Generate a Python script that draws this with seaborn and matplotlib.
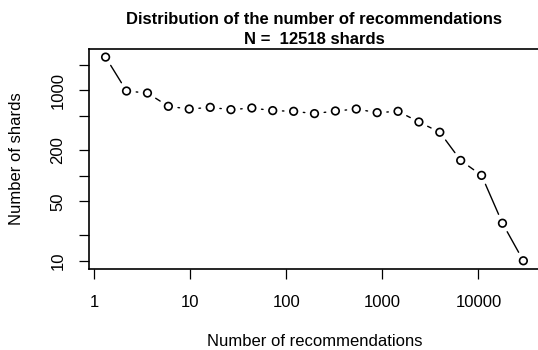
import matplotlib
matplotlib.use("Agg")
import matplotlib.pyplot as plt
import seaborn as sns
import pandas as pd

# Data
recommendations = [1.32, 2.18, 3.60, 5.94, 9.79, 16.2, 26.6, 43.9, 72.4, 119.5,
                   197, 325, 536, 884, 1458, 2405, 3966, 6542, 10790, 17800, 29360]
shards = [2450, 982, 930, 650, 604, 632, 594, 621, 579, 568,
          534, 573, 604, 548, 568, 426, 323, 151, 101, 27.8, 10.1]

x_ticks = [1, 10, 100, 1000, 10000]
x_tick_labels = ["1", "10", "100", "1000", "10000"]
y_ticks = [10, 20, 50, 100, 200, 500, 1000, 2000]
y_tick_labels = ["10", "", "50", "", "200", "", "1000", ""]

title_line1 = "Distribution of the number of recommendations"
title_line2 = "N =  12518 shards"
x_label = "Number of recommendations"
y_label = "Number of shards"

df = pd.DataFrame({"rec": recommendations, "shards": shards})

sns.set_style("white")
plt.rcParams["font.family"] = ["Liberation Sans", "DejaVu Sans"]
plt.rcParams["text.color"] = "black"
plt.rcParams["axes.labelcolor"] = "black"
plt.rcParams["xtick.color"] = "black"
plt.rcParams["ytick.color"] = "black"

W, H = 538, 350
fig = plt.figure(figsize=(W / 100, H / 100), dpi=100)
left_px, right_px, top_px, bottom_px = 89, 540, 49, 269
ax = fig.add_axes([left_px / W, 1 - bottom_px / H,
                   (right_px - left_px) / W, (bottom_px - top_px) / H])
ax.set_xscale("log")
ax.set_yscale("log")
ax.set_xlim(10 ** -0.052, 10 ** 4.641)
ax.set_ylim(10 ** 0.908, 10 ** 3.484)

# type="b" style: line segments with gaps around points
for i in range(len(df) - 1):
    ax.annotate("", xy=(df.rec[i + 1], df.shards[i + 1]), xytext=(df.rec[i], df.shards[i]),
                arrowprops=dict(arrowstyle="-", shrinkA=7, shrinkB=7, lw=1.0, color="black"))

sns.scatterplot(data=df, x="rec", y="shards", ax=ax, marker="o", s=30,
                facecolors="none", edgecolor="black", linewidth=1.2, zorder=3, clip_on=False)

ax.set_xticks(x_ticks)
ax.set_xticklabels(x_tick_labels)
ax.set_yticks(y_ticks)
ax.set_yticklabels(y_tick_labels, rotation=90, va="center")
ax.minorticks_off()
ax.tick_params(axis="both", which="major", length=7, width=0.9, color="black",
               labelsize=12, labelcolor="black", direction="out")
ax.tick_params(axis="x", pad=12)
ax.tick_params(axis="y", pad=10)
ax.xaxis.set_ticks_position("bottom")
ax.yaxis.set_ticks_position("left")

for sp in ax.spines.values():
    sp.set_visible(True)
    sp.set_color("black")
    sp.set_linewidth(1.2)

ax.set_xlabel("")
ax.set_ylabel("")
fig.text((left_px + right_px) / 2 / W, 1 - 342 / H, x_label, ha="center", va="center",
         fontsize=12, color="black")
fig.text(17 / W, 1 - 159 / H, y_label, ha="center", va="center", rotation=90,
         fontsize=12, color="black")
fig.text((left_px + right_px) / 2 / W, 1 - 19.5 / H, title_line1, ha="center", va="center",
         fontsize=12, fontweight="bold", color="black")
fig.text((left_px + right_px) / 2 / W, 1 - 39.5 / H, title_line2, ha="center", va="center",
         fontsize=12, fontweight="bold", color="black")

fig.savefig("out.png", dpi=100, facecolor="white")
